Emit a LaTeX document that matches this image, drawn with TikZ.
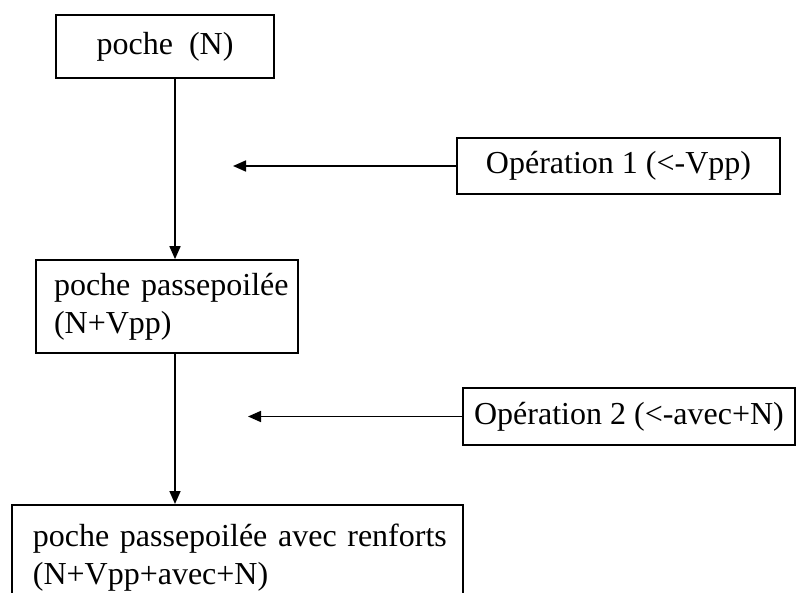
\documentclass[tikz,border=0pt]{standalone}
\usepackage{fontspec}
\setmainfont{Liberation Serif}
\usetikzlibrary{arrows.meta}
\begin{document}
\begin{tikzpicture}[x=1pt,y=-1pt,
  every node/.style={font=\fontsize{32}{38}\selectfont},
  box/.style={draw, line width=1.7pt, rectangle, inner ysep=0pt},
  link/.style={line width=1.7pt, -{Triangle[length=13pt,width=11pt]}}]
\useasboundingbox (0,0) rectangle (808,593);
\clip (0,0) rectangle (808,593);

% stages of the pocket
\node[box, minimum width=218pt, minimum height=63pt] (pocheN) at (165,46.5) {poche~~(N)};
\node[box, text width=226pt, inner xsep=18pt, minimum height=93pt, align=left] (pp) at (167,306.5)
  {\mbox{poche passepoilée}\\\mbox{(N+Vpp)}};
\node[box, anchor=north west, text width=409pt, inner xsep=21pt, inner ysep=19pt, align=left] (ppr) at (11,504)
  {\mbox{poche passepoilée avec renforts}\\\mbox{(N+Vpp+avec+N)}\\[4pt]~};

% operations
\node[box, minimum width=323pt, minimum height=56pt] (op1) at (618.5,166) {Opération 1 (<-Vpp)};
\node[box, minimum width=332pt, minimum height=57pt] (op2) at (629,416.5) {Opération 2 (<-avec+N)};

% connectors
\coordinate (spine) at (175,0);
\coordinate (tip1) at (233,0);
\coordinate (tip2) at (248,0);
\draw[link] (pocheN.south -| spine) -- (pp.north -| spine);
\draw[link] (pp.south -| spine) -- (ppr.north -| spine);
\draw[link] (op1.west) -- (op1.west -| tip1);
\draw[link] (op2.west) -- (op2.west -| tip2);
\end{tikzpicture}
\end{document}
